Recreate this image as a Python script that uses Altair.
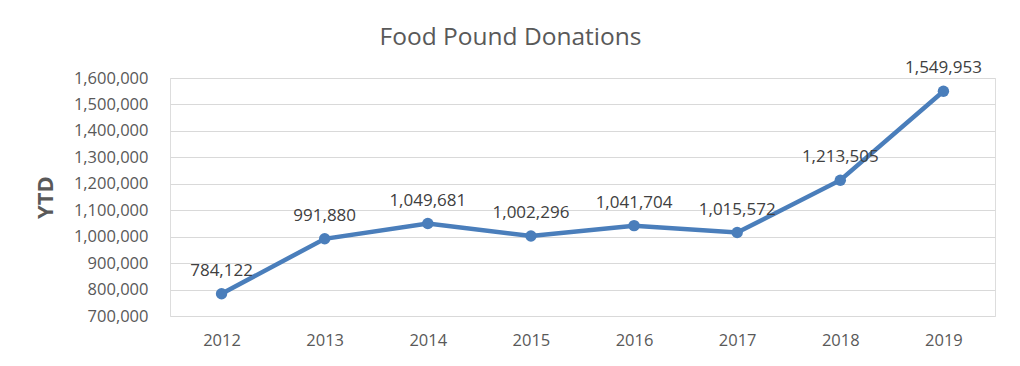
import altair as alt
import pandas as pd

years = ["2012", "2013", "2014", "2015", "2016", "2017", "2018", "2019"]
pounds = [784122, 991880, 1049681, 1002296, 1041704, 1015572, 1213505, 1549953]
y_ticks = [700000, 800000, 900000, 1000000, 1100000, 1200000, 1300000, 1400000, 1500000, 1600000]

df = pd.DataFrame({"year": years, "ytd": pounds})

FONT = "Open Sans"
GREY = "#595959"
LINE = "#4a7ebb"

x = alt.X("year:O", scale=alt.Scale(type="point", padding=0.5),
          axis=alt.Axis(title=None, labelAngle=0, ticks=False, domain=False, grid=False,
                        labelFont=FONT, labelFontSize=16.5, labelColor=GREY, labelPadding=16))
y = alt.Y("ytd:Q", scale=alt.Scale(domain=[700000, 1600000], nice=False, zero=False),
          axis=alt.Axis(title="YTD", values=y_ticks, format=",d", ticks=False, domain=False,
                        grid=True, gridColor="#d9d9d9", gridWidth=1,
                        labelFont=FONT, labelFontSize=16.5, labelColor=GREY, labelPadding=22,
                        titleFont=FONT, titleFontSize=22, titleFontWeight="bold", titleColor=GREY,
                        titleAngle=270, titleX=-125, titleY=119, titleAlign="center",
                        titleBaseline="middle"))

base = alt.Chart(df)
line = base.mark_line(color=LINE, strokeWidth=4.5).encode(x=x, y=y)
pts = base.mark_point(color=LINE, filled=True, opacity=1, size=130).encode(x=x, y=y)
labels = base.mark_text(font=FONT, fontSize=17, color="#404040", dy=-23, baseline="middle").encode(
    x=x, y=y, text=alt.Text("ytd:Q", format=",d"))

chart = (line + pts + labels).properties(
    width=825, height=238,
    title=alt.TitleParams("Food Pound Donations", font=FONT, fontSize=24.5, fontWeight="normal",
                          color=GREY, anchor="middle", frame="group", dx=-72, offset=9),
    autosize=alt.AutoSizeParams(type="none"),
    padding={"left": 162, "top": 70, "right": 17, "bottom": 42},
).configure_view(stroke=None).configure(background="white")

chart.save("out.html", embed_options={"renderer": "svg", "actions": False})
